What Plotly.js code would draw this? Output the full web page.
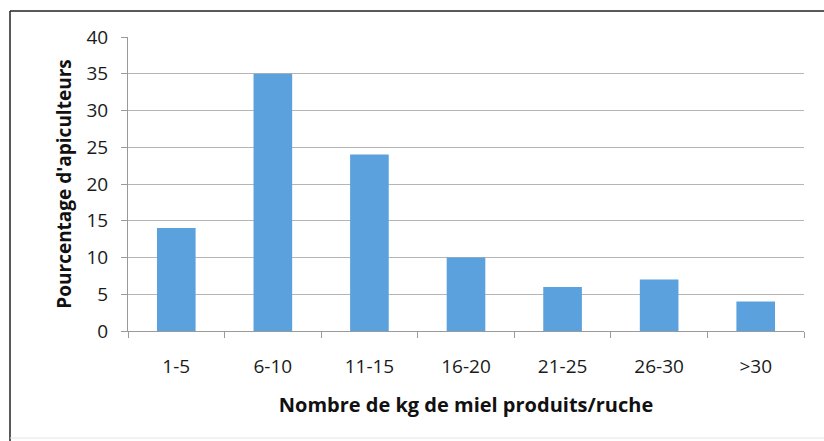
<!DOCTYPE html>
<html>
<head>
<meta charset="utf-8">
<script src="https://cdn.plot.ly/plotly-3.0.1.min.js"></script>
<style>
html,body{margin:0;padding:0;background:#fff;}
#chart{width:824px;height:441px;}
</style>
</head>
<body>
<div id="chart"></div>
<script>
const categories = ["1-5", "6-10", "11-15", "16-20", "21-25", "26-30", ">30"];
const percentages = [14, 35, 24, 10, 6, 7, 4];
const yTicks = [0, 5, 10, 15, 20, 25, 30, 35, 40];

const L = 128, R = 20, T = 37, B = 110, W = 824, H = 441;
const pw = W - L - R, ph = H - T - B;
const px = x => (x - L) / pw;
const py = y => (H - B - y) / ph;

const trace = {
  type: "bar",
  x: categories,
  y: percentages,
  marker: {color: "#5aa1de", line: {width: 0}},
  hoverinfo: "x+y"
};

const font = "Open Sans, DejaVu Sans, sans-serif";

const layout = {
  width: W, height: H,
  margin: {l: L, r: R, t: T, b: B},
  paper_bgcolor: "#ffffff",
  plot_bgcolor: "#ffffff",
  bargap: 0.6,
  showlegend: false,
  font: {family: font, color: "#222"},
  xaxis: {
    type: "category",
    tickson: "boundaries",
    ticks: "outside",
    ticklen: 6,
    tickcolor: "#9a9a9a",
    showline: true,
    linecolor: "#9a9a9a",
    linewidth: 1,
    showgrid: false,
    ticklabelstandoff: 18,
    tickfont: {size: 19, family: font, color: "#1a1a1a"},
    title: {text: "<b>Nombre de kg de miel produits/ruche</b>", font: {size: 20, family: font, color: "#111"}, standoff: 20}
  },
  yaxis: {
    range: [0, 40],
    tickvals: yTicks,
    ticks: "outside",
    ticklen: 6,
    tickcolor: "#9a9a9a",
    showline: true,
    linecolor: "#9a9a9a",
    linewidth: 1,
    showgrid: true,
    gridcolor: "#b5b5b5",
    gridwidth: 1,
    zeroline: false,
    ticklabelstandoff: 9,
    tickfont: {size: 19, family: font, color: "#1a1a1a"},
    title: {text: "<b>Pourcentage d'apiculteurs</b>", font: {size: 19, family: font, color: "#111"}, standoff: 9}
  },
  shapes: [
    {type: "line", xref: "paper", yref: "paper", x0: px(10), x1: px(824), y0: py(11), y1: py(11), line: {color: "#222", width: 1.5}},
    {type: "line", xref: "paper", yref: "paper", x0: px(10), x1: px(10), y0: py(11), y1: py(441), line: {color: "#222", width: 1.5}},
    {type: "line", xref: "paper", yref: "paper", x0: px(10), x1: px(824), y0: py(438), y1: py(438), line: {color: "#e4e4e4", width: 1}}
  ]
};

Plotly.newPlot("chart", [trace], layout, {displayModeBar: false, staticPlot: true});
</script>
</body>
</html>
